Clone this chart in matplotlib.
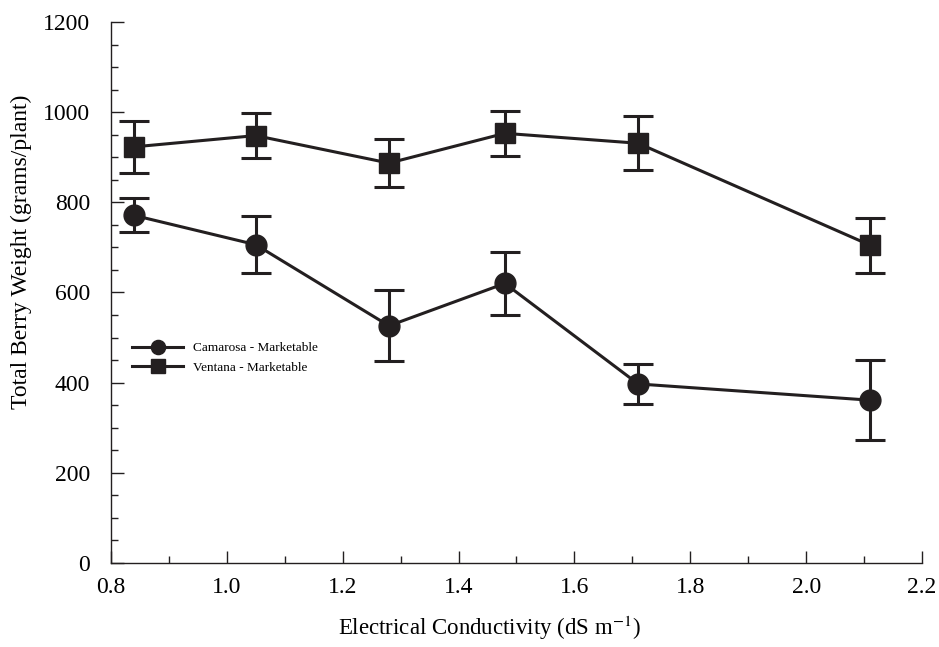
import matplotlib
matplotlib.use('Agg')
import matplotlib.pyplot as plt
from matplotlib.ticker import MultipleLocator

plt.rcParams['font.family'] = ['Liberation Serif', 'DejaVu Serif']
plt.rcParams['mathtext.fontset'] = 'stix'

# EC treatment levels (dS m-1)
ec = [0.84, 1.05, 1.28, 1.48, 1.71, 2.11]

camarosa = [771, 706, 526, 620, 397, 361]
camarosa_err = [38, 63, 79, 70, 45, 89]

ventana = [923, 948, 887, 953, 931, 705]
ventana_err = [58, 49, 53, 50, 60, 61]

fig = plt.figure(figsize=(9.39, 6.47), dpi=100)
ax = fig.add_axes([0.118, 0.13, 0.864, 0.836])

style = dict(color='#231f20', linewidth=2.2, elinewidth=2.2, capsize=11, capthick=2.2)
c1 = ax.errorbar(ec, camarosa, yerr=camarosa_err, marker='o', markersize=15, **style)
c2 = ax.errorbar(ec, ventana, yerr=ventana_err, marker='s', markersize=14, **style)

ax.set_xlim(0.8, 2.2)
ax.set_ylim(0, 1200)
ax.xaxis.set_major_locator(MultipleLocator(0.2))
ax.xaxis.set_minor_locator(MultipleLocator(0.1))
ax.yaxis.set_major_locator(MultipleLocator(200))
ax.yaxis.set_minor_locator(MultipleLocator(50))
ax.xaxis.set_major_formatter(matplotlib.ticker.FormatStrFormatter('%.1f'))

ax.tick_params(which='both', direction='in', labelsize=17, color='#231f20', width=1)
ax.tick_params(which='major', length=9)
ax.tick_params(which='minor', length=5)
ax.tick_params(axis='x', which='major', pad=10)
ax.tick_params(axis='y', which='major', pad=15)

for side in ['top', 'right']:
    ax.spines[side].set_visible(False)
for side in ['left', 'bottom']:
    ax.spines[side].set_linewidth(1)
    ax.spines[side].set_color('#231f20')

ax.set_xlabel('Electrical Conductivity (dS m$^{-1}$)', fontsize=16.5)
ax.set_ylabel('Total Berry Weight (grams/plant)', fontsize=17)
ax.xaxis.set_label_coords(0.467, -0.095)
ax.yaxis.set_label_coords(-0.097, 0.575)

# legend shows only line + marker (no error bars)
ax.legend([c1[0], c2[0]], ['Camarosa - Marketable', 'Ventana - Marketable'],
          loc='center left', bbox_to_anchor=(0.026, 0.379), frameon=False,
          fontsize=9.5, handlelength=3.9, handletextpad=0.7, labelspacing=0.55,
          borderaxespad=0, borderpad=0, markerscale=0.68)

fig.savefig('out.png', dpi=100)
